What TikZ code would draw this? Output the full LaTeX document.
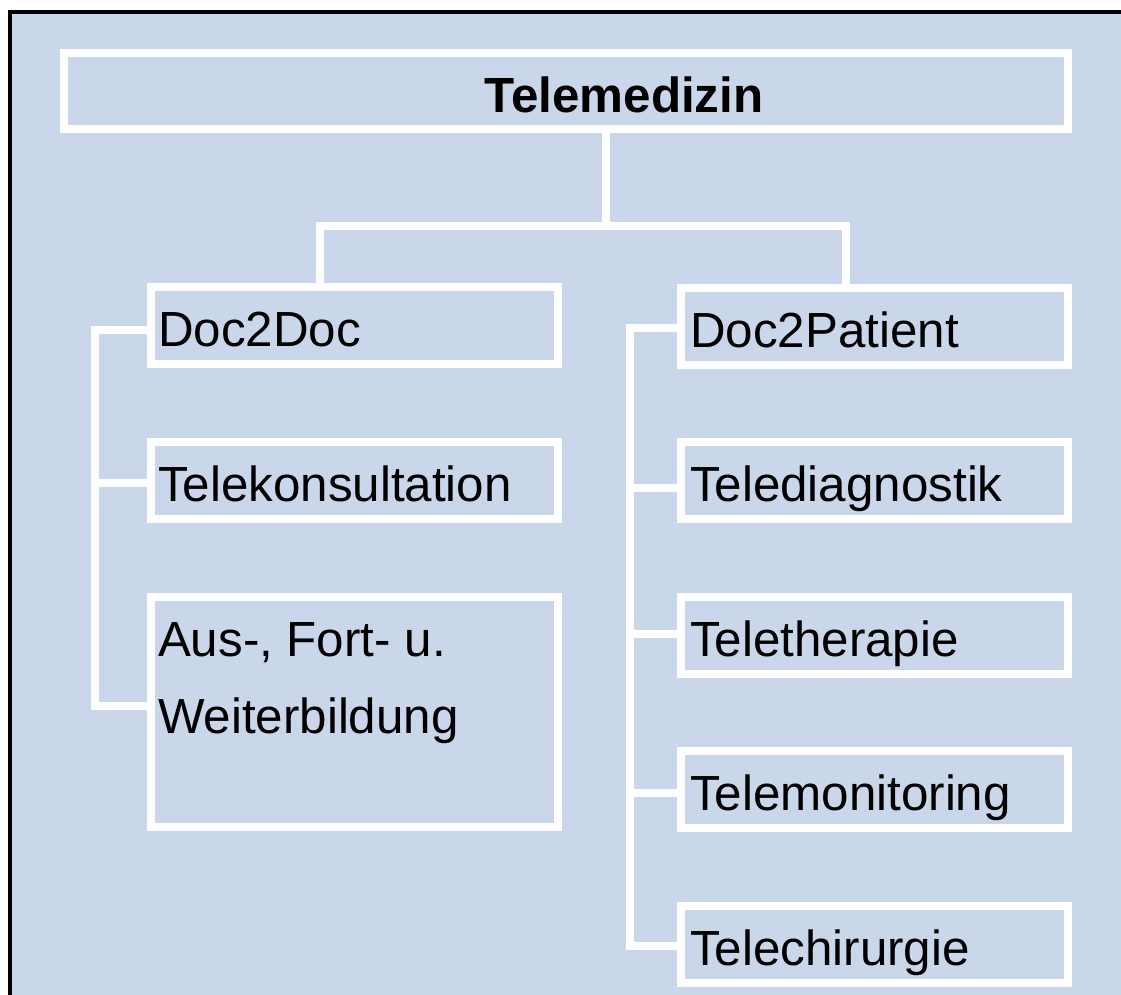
\documentclass[tikz,border=0pt]{standalone}
\usepackage{fontspec}
\setmainfont{Liberation Sans}
\definecolor{bgblue}{RGB}{202,214,233}
\begin{document}
\begin{tikzpicture}[x=0.75pt,y=-0.75pt,
  frame/.style={draw=white, line width=6pt, inner ysep=0pt, font=\fontsize{37}{57.75}\selectfont},
  box/.style={frame, minimum height=57.75pt, text height=37pt, text depth=5pt, align=left},
  lbox/.style={box, inner xsep=5.25pt, text width=294.75pt},
  rbox/.style={box, inner xsep=6.75pt, text width=276.75pt},
  titlestyle/.style={inner sep=0pt, text height=37pt, text depth=5pt, font=\bfseries\fontsize{37}{43}\selectfont},
  conn/.style={draw=white, line width=6pt, line cap=rect, line join=miter}]
\useasboundingbox (0,0) rectangle (1121,995);
\begin{scope}
  \clip (0,0) rectangle (1121,995);
  \draw[line width=3pt, fill=bgblue] (10,12) rectangle (1200,1100);
\end{scope}

% top
\node[frame, minimum width=753pt, minimum height=57pt, inner sep=0pt] (top) at (566,91) {};
\node[titlestyle] (ttl) at (624,91) {Telemedizin};

% left column
\node[lbox] (d2d) at (354.5,325.5) {Doc2Doc};
\node[lbox] (tk) at (354.5,480) {Telekonsultation};
\node[frame, inner xsep=5.25pt, minimum width=305.25pt, minimum height=172.5pt] (aus) at (354.5,712)
  {\parbox[c][172.5pt][t]{294.75pt}{\raggedright\rule{0pt}{44.25pt}Aus-, Fort- u.\\Weiterbildung}};

% right column
\node[rbox] (d2p) at (874.5,326) {Doc2Patient};
\node[rbox] (tdia) at (874.5,480) {Telediagnostik};
\node[rbox] (tther) at (874.5,635.5) {Teletherapie};
\node[rbox] (tmon) at (874.5,789.5) {Telemonitoring};
\node[rbox] (tchir) at (874.5,944) {Telechirurgie};

% top connectors
\coordinate (hub) at (606,226);
\coordinate (lx) at (320,226);
\coordinate (rx) at (846,226);
\draw[conn] (top.south -| hub) -- (hub);
\draw[conn] (lx |- d2d.north) -- (lx) -- (rx) -- (rx |- d2p.north);

% left connectors
\coordinate (lt) at (95,330);
\coordinate (lm) at (95,483);
\coordinate (lb) at (95,706);
\draw[conn] (d2d.west |- lt) -- (lt) -- (lb) -- (aus.west |- lb);
\draw[conn] (tk.west |- lm) -- (lm);

% right connectors
\coordinate (rt) at (630,328);
\coordinate (r2) at (630,488);
\coordinate (r3) at (630,634);
\coordinate (r4) at (630,793);
\coordinate (rb) at (630,946);
\draw[conn] (d2p.west |- rt) -- (rt) -- (rb) -- (tchir.west |- rb);
\draw[conn] (tdia.west |- r2) -- (r2);
\draw[conn] (tther.west |- r3) -- (r3);
\draw[conn] (tmon.west |- r4) -- (r4);
\end{tikzpicture}
\end{document}
